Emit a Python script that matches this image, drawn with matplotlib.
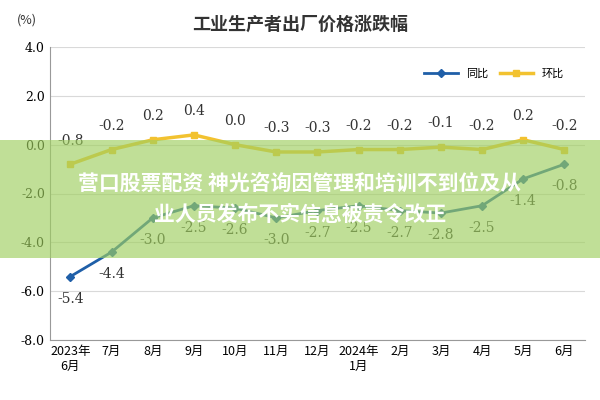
import matplotlib.pyplot as plt
from matplotlib.patches import Rectangle

plt.rcParams["font.family"] = "Noto Sans CJK SC"

MONTHS = ["2023年\n6月", "7月", "8月", "9月", "10月", "11月", "12月",
          "2024年\n1月", "2月", "3月", "4月", "5月", "6月"]
YOY = [-5.4, -4.4, -3.0, -2.5, -2.6, -3.0, -2.7, -2.5, -2.7, -2.8, -2.5, -1.4, -0.8]
MOM = [-0.8, -0.2, 0.2, 0.4, 0.0, -0.3, -0.3, -0.2, -0.2, -0.1, -0.2, 0.2, -0.2]
YTICKS = [4.0, 2.0, 0.0, -2.0, -4.0, -6.0, -8.0]

fig = plt.figure(figsize=(6, 4), dpi=100)
ax = fig.add_axes([0.083, 0.15, 0.892, 0.7325])
x = list(range(len(MONTHS)))

ax.plot(x, YOY, color="#1f5fa8", lw=2, marker="D", ms=4, label="同比", zorder=3)
ax.plot(x, MOM, color="#f2c230", lw=2.5, marker="s", ms=4, label="环比", zorder=3)

for i, v in enumerate(YOY):
    ax.annotate(f"{v:.1f}", (i, v), xytext=(0, -16), textcoords="offset points",
                ha="center", va="center", fontsize=10, family="DejaVu Serif", color="#333333")
for i, v in enumerate(MOM):
    ax.annotate(f"{v:.1f}", (i, v), xytext=(0, 17), textcoords="offset points",
                ha="center", va="center", fontsize=10, family="DejaVu Serif", color="#333333")

ax.set_ylim(-8, 4)
ax.set_xlim(-0.5, len(MONTHS) - 0.5)
ax.set_yticks(YTICKS)
ax.set_yticklabels([f"{t:.1f}" for t in YTICKS], family="DejaVu Serif", fontsize=9)
ax.set_xticks(x)
ax.set_xticklabels(MONTHS, fontsize=9)
ax.grid(axis="y", color="#d9d9d9", lw=0.8)
ax.set_axisbelow(True)
for s in ["top", "right"]:
    ax.spines[s].set_visible(False)
ax.spines["left"].set_color("#999999")
ax.spines["bottom"].set_color("#999999")
ax.tick_params(length=0)

ax.legend(loc="upper right", bbox_to_anchor=(0.98, 0.96), ncol=2, frameon=False,
          fontsize=8, handlelength=3, columnspacing=1)

fig.text(0.5, 0.94, "工业生产者出厂价格涨跌幅", ha="center", va="center",
         fontsize=13, fontweight="bold", color="#333333")
fig.text(0.045, 0.95, "(%)", ha="center", va="center", fontsize=9, color="#333333")

# overlay banner
fig.patches.append(Rectangle((0, 0.355), 1, 0.295, transform=fig.transFigure,
                             facecolor="#9fcf5f", alpha=0.65, zorder=5))
fig.text(0.5, 0.503, "营口股票配资 神光咨询因管理和培训不到位及从\n业人员发布不实信息被责令改正",
         ha="center", va="center", fontsize=15, fontweight="bold", color="white",
         linespacing=1.6, zorder=6)

fig.savefig("out.png", dpi=100, facecolor="white")
